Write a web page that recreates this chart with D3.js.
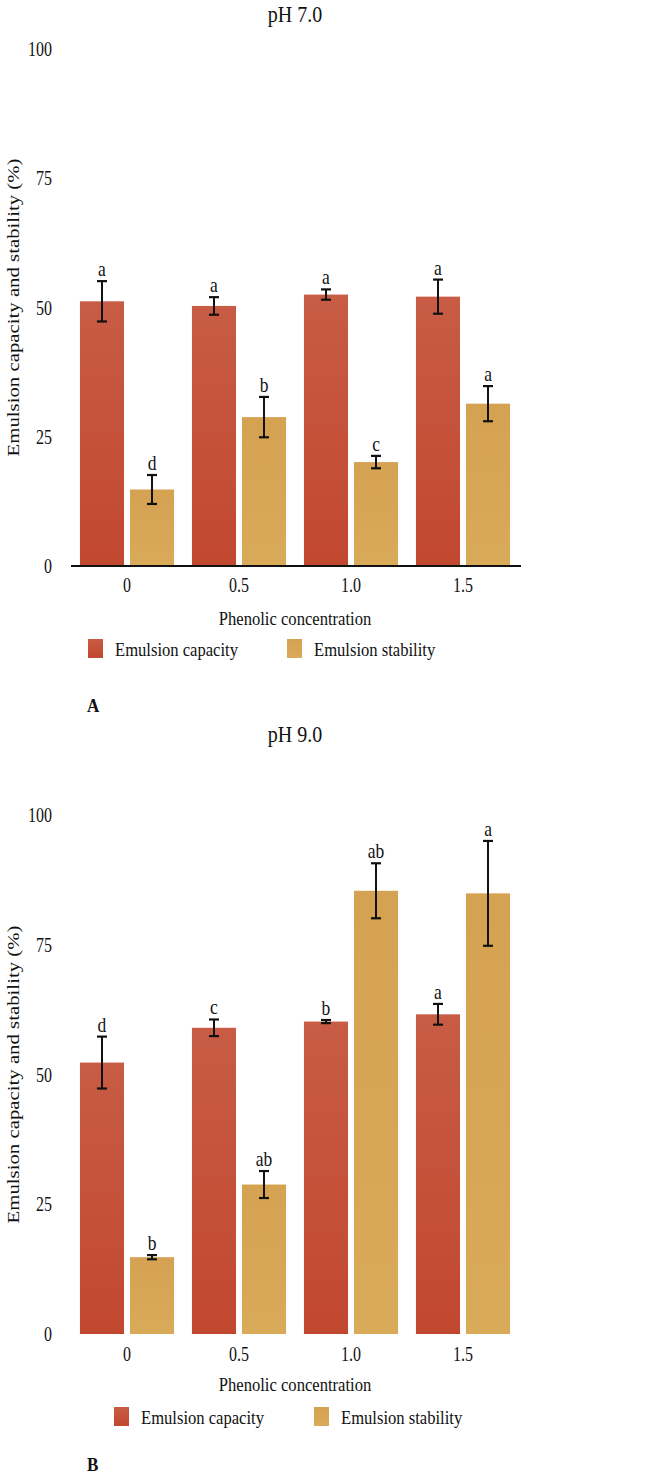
<!DOCTYPE html>
<html><head><meta charset="utf-8">
<script src="https://cdn.jsdelivr.net/npm/d3@7"></script>
<style>
html,body{margin:0;padding:0;background:#fff;}
svg text{font-family:"Liberation Serif","Times New Roman",serif;fill:#111;}
</style></head>
<body><svg id="c" width="661" height="1477"></svg>
<script>
const categories = ["0", "0.5", "1.0", "1.5"];
const seriesNames = ["Emulsion capacity", "Emulsion stability"];
const yTicks = [0, 25, 50, 75, 100];

const capA = [51.2, 50.3, 52.5, 52.1];
const capAErr = [3.9, 1.7, 1.0, 3.3];
const stabA = [14.8, 28.8, 20.1, 31.4];
const stabAErr = [2.8, 3.9, 1.2, 3.4];
const capALetters = ["a", "a", "a", "a"];
const stabALetters = ["d", "b", "c", "a"];

const capB = [52.3, 59.0, 60.2, 61.6];
const capBErr = [5.0, 1.6, 0.3, 2.0];
const stabB = [14.8, 28.8, 85.4, 84.9];
const stabBErr = [0.4, 2.6, 5.3, 10.1];
const capBLetters = ["d", "c", "b", "a"];
const stabBLetters = ["b", "ab", "ab", "a"];

const svg = d3.select("#c");
const defs = svg.append("defs");
function grad(id, top, bottom){
  const g = defs.append("linearGradient").attr("id", id).attr("x1",0).attr("y1",0).attr("x2",0).attr("y2",1);
  g.append("stop").attr("offset","0%").attr("stop-color",top);
  g.append("stop").attr("offset","100%").attr("stop-color",bottom);
}
grad("gCap", "#c85c44", "#c2472f");
grad("gStab", "#d5a252", "#d9aa58");
const fills = ["url(#gCap)", "url(#gStab)"];

function txt(g, s, x, y, size, sy, anchor, extra){
  const t = g.append("text")
    .attr("transform", `translate(${x},${y}) scale(1,${sy})`)
    .attr("text-anchor", anchor || "middle")
    .style("font-size", size + "px")
    .text(s);
  if (extra) extra(t);
  return t;
}

function panel(cfg){
  const g = svg.append("g");
  const x = d3.scaleBand().domain(categories).range([71, 519]).paddingInner(0.16).paddingOuter(0.08);
  const xs = d3.scaleBand().domain(seriesNames).range([0, x.bandwidth()]).paddingInner(0.12);
  const y = d3.scaleLinear().domain([0, 100]).range([cfg.y0, cfg.y100]);

  txt(g, cfg.title, 295, cfg.titleY, 20, 1.12);

  yTicks.forEach(v => {
    txt(g, String(v), 52, y(v) + 7, 16, 1.35, "end");
  });

  g.append("text")
    .attr("transform", `translate(19,${(y(0)+y(100))/2}) rotate(-90) scale(1.3,1)`)
    .attr("text-anchor", "middle")
    .style("font-size", "16px")
    .text("Emulsion capacity and stability (%)");

  const series = [
    {name: seriesNames[0], vals: cfg.cap, err: cfg.capErr, let: cfg.capLet},
    {name: seriesNames[1], vals: cfg.stab, err: cfg.stabErr, let: cfg.stabLet}
  ];
  series.forEach((s, si) => {
    const data = categories.map((c, i) => ({c, v: s.vals[i], e: s.err[i], l: s.let[i]}));
    const gx = d => x(d.c) + xs(s.name);
    g.selectAll(null).data(data).enter().append("rect")
      .attr("x", gx).attr("width", xs.bandwidth())
      .attr("y", d => y(d.v)).attr("height", d => y(0) - y(d.v))
      .attr("fill", fills[si]);
    const cx = d => gx(d) + xs.bandwidth() / 2;
    g.selectAll(null).data(data).enter().append("line")
      .attr("x1", cx).attr("x2", cx)
      .attr("y1", d => y(d.v + d.e)).attr("y2", d => y(d.v - d.e))
      .attr("stroke", "#111").attr("stroke-width", 2);
    ["+", "-"].forEach(sg => {
      g.selectAll(null).data(data).enter().append("line")
        .attr("x1", d => cx(d) - 5).attr("x2", d => cx(d) + 5)
        .attr("y1", d => y(sg === "+" ? d.v + d.e : d.v - d.e))
        .attr("y2", d => y(sg === "+" ? d.v + d.e : d.v - d.e))
        .attr("stroke", "#111").attr("stroke-width", 2.2);
    });
    data.forEach(d => {
      txt(g, d.l, cx(d), y(d.v + d.e) - 5, 17.5, 1.2);
    });
  });

  if (cfg.axisLine) {
    g.append("line").attr("x1", 71).attr("x2", 521).attr("y1", y(0)).attr("y2", y(0))
      .attr("stroke", "#111").attr("stroke-width", 2);
  }

  categories.forEach(c => {
    txt(g, c, x(c) + x.bandwidth() / 2, cfg.xLabY, 16, 1.35);
  });
  txt(g, "Phenolic concentration", 295, cfg.xTitleY, 16.6, 1.12);

  const lg = g.append("g");
  seriesNames.forEach((n, i) => {
    const lx = cfg.legX[i];
    lg.append("rect").attr("x", lx).attr("y", cfg.legY).attr("width", 15).attr("height", 19)
      .attr("fill", fills[i]);
    txt(lg, n, lx + 27, cfg.legY + 16.5, 16.6, 1.15, "start");
  });

  txt(g, cfg.letter, cfg.letterX, cfg.letterY, 17, 1.1, "start", t => t.style("font-weight", "bold"));
}

panel({
  title: "pH 7.0", titleY: 22, y0: 566, y100: 49,
  cap: capA, capErr: capAErr, stab: stabA, stabErr: stabAErr, capLet: capALetters, stabLet: stabALetters,
  axisLine: true, xLabY: 592, xTitleY: 625, legX: [88, 287], legY: 639,
  letter: "A", letterX: 87, letterY: 712
});
panel({
  title: "pH 9.0", titleY: 742, y0: 1334, y100: 815,
  cap: capB, capErr: capBErr, stab: stabB, stabErr: stabBErr, capLet: capBLetters, stabLet: stabBLetters,
  axisLine: false, xLabY: 1361, xTitleY: 1391, legX: [114, 314], legY: 1407,
  letter: "B", letterX: 87, letterY: 1471
});
</script></body></html>
